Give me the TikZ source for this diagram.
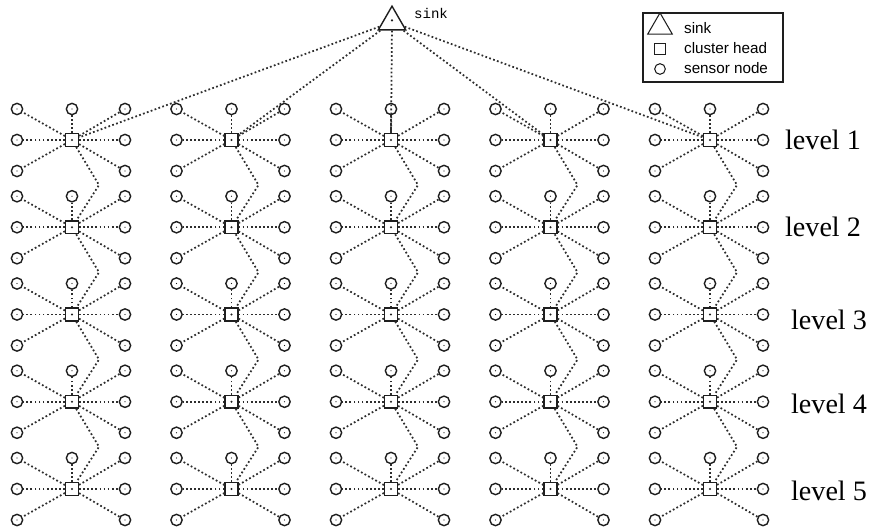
\documentclass[tikz,border=0pt]{standalone}
\usepackage{fontspec}
\setmainfont{Liberation Serif}
\setsansfont{Liberation Sans}
\setmonofont{Liberation Mono}
\usetikzlibrary{shapes.geometric}
\definecolor{linkgray}{RGB}{45,45,45}
\definecolor{nodegray}{RGB}{30,30,30}

\begin{document}
\begin{tikzpicture}[x=0.03cm,y=-0.03cm,
  sensor/.style={circle,draw=nodegray,line width=1.2pt,minimum size=0.34cm,inner sep=0pt,
    path picture={\fill[nodegray] (path picture bounding box.center) circle (0.6pt);}},
  head/.style={rectangle,draw=nodegray,line width=1.2pt,minimum size=0.38cm,inner sep=0pt,
    path picture={\fill[nodegray] (path picture bounding box.center) circle (0.9pt);}},
  sinknode/.style={regular polygon,regular polygon sides=3,draw=nodegray,line width=1.2pt,
    minimum size=0.95cm,inner sep=0pt},
  link/.style={linkgray,line width=1.5pt,dash pattern=on 1.5pt off 2pt},
  levellabel/.style={anchor=west,font=\fontsize{24}{28}\selectfont},
  legendtext/.style={anchor=west,font=\sffamily\fontsize{13}{15}\selectfont},
  ]
  \useasboundingbox (0,0) rectangle (869,531);

  % sink and its label
  \node[sinknode,path picture={\fill[nodegray] ([yshift=-2pt]path picture bounding box.center) circle (1pt);}]
    (sink) at (392,22) {};
  \node[anchor=west,font=\ttfamily\fontsize{12}{14}\selectfont] (sinklabel) at (410,13) {sink};

  % legend
  \node[draw=nodegray,line width=0.9pt,minimum width=4.2cm,minimum height=2.07cm] (legend) at (713,47.5) {};
  \node[regular polygon,regular polygon sides=3,draw=nodegray,line width=0.9pt,minimum size=0.85cm,inner sep=0pt]
    (legtri) at (660,27) {};
  \node[rectangle,draw=nodegray,line width=0.9pt,minimum size=0.32cm,inner sep=0pt] (legsq) at (660,49) {};
  \node[circle,draw=nodegray,line width=0.9pt,minimum size=0.32cm,inner sep=0pt] (legcirc) at (660,69) {};
  \node[legendtext] (legsink) at (680,28) {sink};
  \node[legendtext] (leghead) at (680,48) {cluster head};
  \node[legendtext] (legsensor) at (680,68) {sensor node};

  % clusters: 5 columns, 5 levels
  \foreach \c in {0,...,4}{
    \foreach \l in {1,...,5}{
      \pgfmathsetmacro\cx{72+159.5*\c}
      \pgfmathsetmacro\cy{140+87.25*(\l-1)}
      \node[head] (ch-\c-\l) at (\cx,\cy) {};
      \node[sensor] (tl-\c-\l) at (\cx-55,\cy-31) {};
      \node[sensor] (tm-\c-\l) at (\cx,\cy-31) {};
      \node[sensor] (tr-\c-\l) at (\cx+53,\cy-31) {};
      \node[sensor] (ml-\c-\l) at (\cx-55,\cy) {};
      \node[sensor] (mr-\c-\l) at (\cx+53,\cy) {};
      \node[sensor] (bl-\c-\l) at (\cx-55,\cy+31) {};
      \node[sensor] (br-\c-\l) at (\cx+53,\cy+31) {};
      \coordinate (bend-\c-\l) at (\cx+27,\cy+45);
      \foreach \s in {tl,tm,tr,ml,mr,bl,br}
        \draw[link] (ch-\c-\l) -- (\s-\c-\l);
    }
  }

  % cluster heads up to the next level
  \foreach \c in {0,...,4}{
    \foreach \l/\m in {1/2,2/3,3/4,4/5}
      \draw[link] (ch-\c-\l) -- (bend-\c-\l) -- (ch-\c-\m);
    \draw[link] (sink) -- (ch-\c-1);
  }

  % level labels
  \node[levellabel] (lev1) at (781,140) {level 1};
  \node[levellabel] (lev2) at (781,227) {level 2};
  \node[levellabel] (lev3) at (787,320) {level 3};
  \node[levellabel] (lev4) at (787,404) {level 4};
  \node[levellabel] (lev5) at (787,491) {level 5};
\end{tikzpicture}
\end{document}
